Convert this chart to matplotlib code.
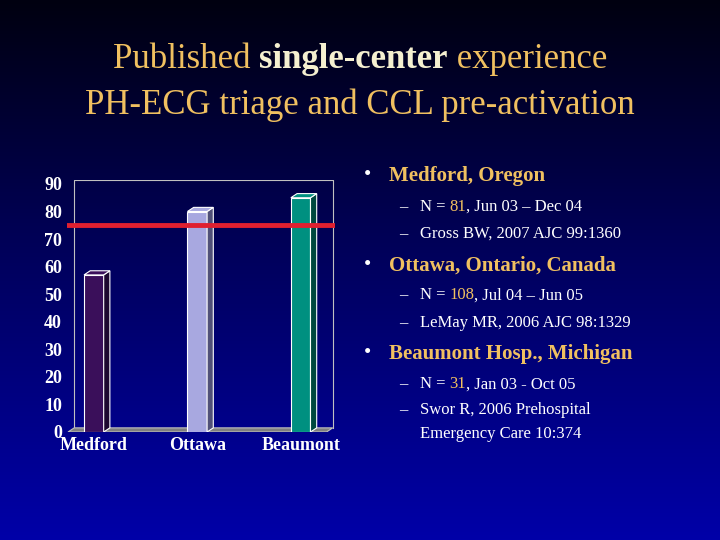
import numpy as np
import matplotlib.pyplot as plt
from matplotlib.colors import LinearSegmentedColormap
from matplotlib.patches import Polygon

sites = ["Medford", "Ottawa", "Beaumont"]
values = [57, 80, 85]
face_colors = ["#3a0f5a", "#a8a8e0", "#009080"]
side_colors = ["#1e0830", "#505078", "#00483f"]
threshold = 75

plt.rcParams['font.family'] = ['Liberation Serif', 'DejaVu Serif']

fig = plt.figure(figsize=(7.2, 5.4), dpi=100)
bg = fig.add_axes([0, 0, 1, 1])
grad = np.linspace(0, 1, 256).reshape(-1, 1)
bg.imshow(grad, aspect="auto", extent=[0, 1, 0, 1], origin="upper",
          cmap=LinearSegmentedColormap.from_list("bg", ["#000010", "#000060", "#0000a8"]))
bg.set_axis_off()

gold = "#f0c060"


def runs(x0, y, parts, size, ha="left", **kw):
    # draw text runs side by side, measuring each
    fig.canvas.draw()
    widths = []
    for p, c, wt in parts:
        t = fig.text(0, 0, p, fontsize=size, fontweight=wt)
        widths.append(t.get_window_extent().width / fig.bbox.width)
        t.remove()
    xx = x0 - sum(widths) / 2 if ha == "center" else x0
    for (p, c, wt), wd in zip(parts, widths):
        fig.text(xx, y, p, color=c, fontsize=size, fontweight=wt, va="center", **kw)
        xx += wd


runs(0.5, 0.89, [("Published ", gold, "normal"), ("single-center", "#f5f0d0", "bold"),
                 (" experience", gold, "normal")], 25, ha="center")
fig.text(0.5, 0.805, "PH-ECG triage and CCL pre-activation", color=gold,
         fontsize=25, ha="center", va="center")

ax = fig.add_axes([0.093, 0.20, 0.372, 0.467])
ax.set_facecolor("none")
x = np.arange(len(sites))
w = 0.19
dx, dy = 0.06, 1.5
ax.add_patch(Polygon([(-0.25, 0), (2.25, 0), (2.25 + dx, dy), (-0.25 + dx, dy)],
                     facecolor="#808080", edgecolor="#c0c0c0", lw=0.8, zorder=1))
ax.plot([-0.25 + dx, -0.25 + dx, 2.25 + dx, 2.25 + dx], [dy, 90 + dy, 90 + dy, dy],
        color="#c0c0c0", lw=0.8, zorder=0)
for xi, v, fc, sc in zip(x, values, face_colors, side_colors):
    ax.bar(xi, v, width=w, color=fc, edgecolor="white", lw=0.8, zorder=3)
    l, r = xi - w / 2, xi + w / 2
    ax.add_patch(Polygon([(r, 0), (r + dx, dy), (r + dx, v + dy), (r, v)],
                         facecolor=sc, edgecolor="white", lw=0.8, zorder=3))
    ax.add_patch(Polygon([(l, v), (r, v), (r + dx, v + dy), (l + dx, v + dy)],
                         facecolor=fc, edgecolor="white", lw=0.8, zorder=3))
ax.axhline(threshold, color="#e02030", lw=3.5, zorder=4)
ax.set_xlim(-0.26, 2.33)
ax.set_ylim(0, 91.5)
ax.set_yticks(range(0, 91, 10))
ax.set_xticks(x, sites)
for s in ax.spines.values():
    s.set_visible(False)
ax.tick_params(length=0, colors="white", labelsize=13)
for lab in ax.get_xticklabels() + ax.get_yticklabels():
    lab.set_fontweight("bold")


def bullet(y, txt):
    fig.text(0.505, y, "•", color="white", fontsize=15, va="center")
    fig.text(0.54, y, txt, color=gold, fontsize=15, fontweight="bold", va="center")


def sub(y, parts):
    fig.text(0.555, y, "–", color="white", fontsize=12, va="center")
    runs(0.583, y, [(p, c, "normal") for p, c in parts], 12)


bullet(0.675, "Medford, Oregon")
sub(0.617, [("N = ", "white"), ("81", gold), (", Jun 03 – Dec 04", "white")])
sub(0.567, [("Gross BW, 2007 AJC 99:1360", "white")])
bullet(0.508, "Ottawa, Ontario, Canada")
sub(0.453, [("N = ", "white"), ("108", gold), (", Jul 04 – Jun 05", "white")])
sub(0.402, [("LeMay MR, 2006 AJC 98:1329", "white")])
bullet(0.345, "Beaumont Hosp., Michigan")
sub(0.288, [("N = ", "white"), ("31", gold), (", Jan 03 - Oct 05", "white")])
sub(0.240, [("Swor R, 2006 Prehospital", "white")])
fig.text(0.583, 0.197, "Emergency Care 10:374", color="white", fontsize=12, va="center")

fig.savefig("out.png", dpi=100)
